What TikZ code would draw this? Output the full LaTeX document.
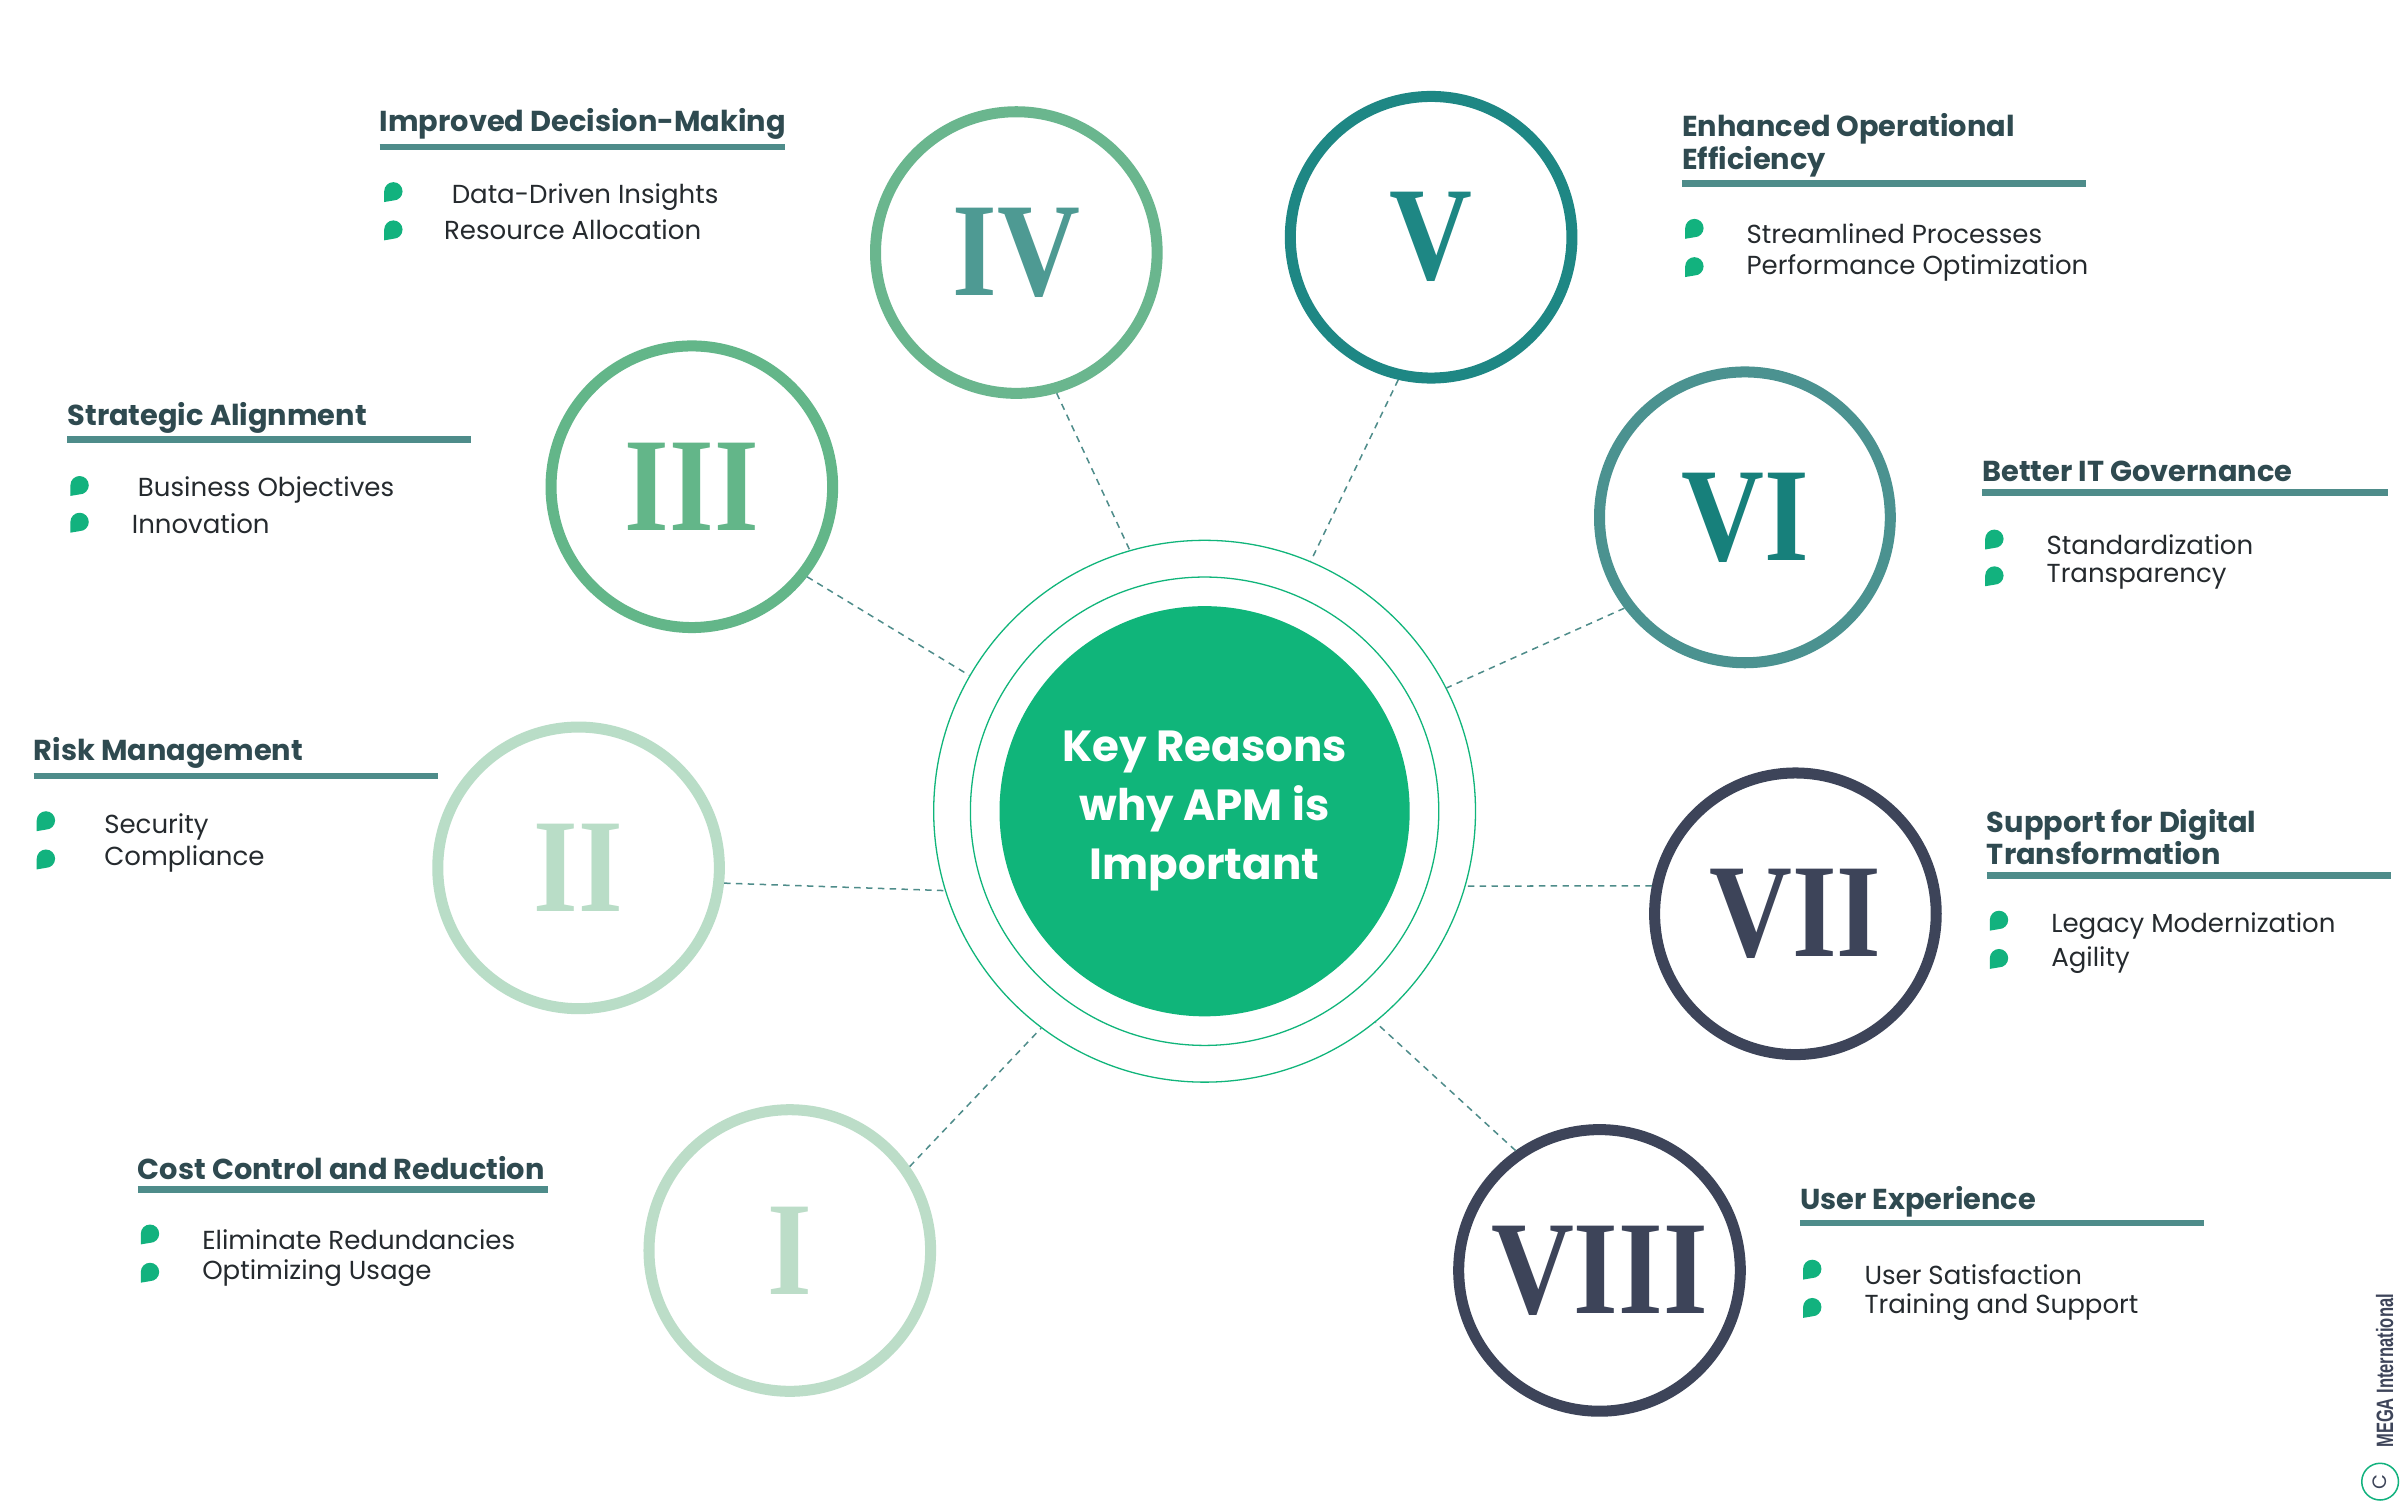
\documentclass[tikz,border=0pt]{standalone}
\usepackage{fontspec}
\setmainfont{Poppins}
\newfontfamily\numfont{Liberation Serif}[FakeStretch=0.86]
\newfontfamily\capfont{Liberation Sans}[FakeStretch=0.7]
\definecolor{bgreen}{HTML}{12B27E}
\definecolor{ctrg}{HTML}{10B57A}
\definecolor{ttl}{HTML}{2F4A50}
\definecolor{uline}{HTML}{4E8C8A}
\definecolor{cIV}{HTML}{6AB68E}
\definecolor{nIV}{HTML}{4E9A93}
\definecolor{cV}{HTML}{1E8784}
\definecolor{cIII}{HTML}{63B689}
\definecolor{cVI}{HTML}{4B9290}
\definecolor{nVI}{HTML}{17807B}
\definecolor{cII}{HTML}{B9DDC7}
\definecolor{cI}{HTML}{BCDDC8}
\definecolor{navy}{HTML}{3D4459}
\definecolor{txt}{HTML}{252A2E}
\begin{document}
\begin{tikzpicture}[x=0.05cm,y=-0.05cm,
  ring/.style={circle,draw,line width=0.36cm,minimum size=9.2cm,inner sep=0,outer sep=0.18cm,font=\numfont\bfseries\fontsize{124}{124}\selectfont},
  conn/.style={draw=uline,dashed,line width=1.4pt,dash pattern=on 6pt off 5pt},
  ttlf/.style={anchor=west,inner sep=0,text=ttl,font=\fontsize{26.8}{30}\selectfont\bfseries,align=left},
  body/.style={anchor=west,inner sep=0,text=txt,font=\fontsize{24.2}{28}\selectfont},
  ul/.style={draw=uline,line width=0.22cm},
  bul/.pic={\fill[bgreen] (-6,7) -- (-6,0) arc(180:450:6) -- cycle;}]
\useasboundingbox (0,0) rectangle (1568,987);
\fill[white] (0,0) rectangle (1568,987);
\node[circle,draw=ctrg,line width=1.2pt,minimum size=17.7cm,inner sep=0] (ctr) at (787,530) {};
\draw[ctrg,line width=1.2pt] (ctr.center) circle (153);
\fill[ctrg] (ctr.center) circle (134);
\node[text=white,align=center,font=\fontsize{40.5}{55}\selectfont\bfseries] (ctrt) at (787,530) {Key Reasons\\why APM is\\Important};
\node[ring,draw=cIV,text=nIV] (c4) at (664,165) {IV};
\node[ring,draw=cV,text=cV] (c5) at (935,155) {V};
\node[ring,draw=cIII,text=cIII] (c3) at (452,318) {III};
\node[ring,draw=cVI,text=nVI,minimum size=9.5cm] (c6) at (1140,338) {VI};
\node[ring,draw=cII,text=cII] (c2) at (378,567) {II};
\node[ring,draw=navy,text=navy] (c7) at (1173,597) {VII};
\node[ring,draw=cI,text=cI] (c1) at (516,817) {I};
\node[ring,draw=navy,text=navy] (c8) at (1045,830) {VIII};
\draw[conn] (c4.-74) -- (ctr.106);
\draw[conn] (c5.-103) -- (ctr.67);
\draw[conn] (c3.-38) -- (ctr.150);
\draw[conn] (c6.-143) -- (ctr.27);
\draw[conn] (c2.-6) -- (ctr.197);
\draw[conn] (c7.169) -- (ctr.-16);
\draw[conn] (c1.35) -- (ctr.233);
\draw[conn] (c8.125) -- (ctr.-51);
\node[ttlf] (t4) at (248,81) {Improved Decision-Making};
\draw[ul] (248,96) -- (513,96);
\pic at (257,125) {bul}; \pic at (257,150) {bul};
\node[body] at (295,129) {Data-Driven Insights};
\node[body] at (290,150) {Resource Allocation};
\node[ttlf] (t5) at (1099,95) {Enhanced Operational\\Efficiency};
\draw[ul] (1099,120) -- (1363,120);
\pic at (1107,149) {bul}; \pic at (1107,174) {bul};
\node[body] at (1141,153) {Streamlined Processes};
\node[body] at (1141,175) {Performance Optimization};
\node[ttlf] (t3) at (44,273) {Strategic Alignment};
\draw[ul] (44,287) -- (308,287);
\pic at (52,317) {bul}; \pic at (52,341) {bul};
\node[body] at (90,320) {Business Objectives};
\node[body] at (86,342) {Innovation};
\node[ttlf] (t6) at (1295,308) {Better IT Governance};
\draw[ul] (1295,322) -- (1560,322);
\pic at (1303,352) {bul}; \pic at (1303,376) {bul};
\node[body] at (1337,356) {Standardization};
\node[body] at (1337,377) {Transparency};
\node[ttlf] (t2) at (22,492) {Risk Management};
\draw[ul] (22,507) -- (286,507);
\pic at (30,536) {bul}; \pic at (30,561) {bul};
\node[body] at (68,540) {Security};
\node[body] at (68,561) {Compliance};
\node[ttlf] (t7) at (1298,547) {Support for Digital\\Transformation};
\draw[ul] (1298,572) -- (1562,572);
\pic at (1306,601) {bul}; \pic at (1306,626) {bul};
\node[body] at (1340,605) {Legacy Modernization};
\node[body] at (1340,627) {Agility};
\node[ttlf] (t1) at (90,763) {Cost Control and Reduction};
\draw[ul] (90,777) -- (358,777);
\pic at (98,806) {bul}; \pic at (98,831) {bul};
\node[body] at (132,810) {Eliminate Redundancies};
\node[body] at (132,832) {Optimizing Usage};
\node[ttlf] (t8) at (1176,785) {User Experience};
\draw[ul] (1176,799) -- (1440,799);
\pic at (1184,829) {bul}; \pic at (1184,854) {bul};
\node[body] at (1218,833) {User Satisfaction};
\node[body] at (1218,854) {Training and Support};
\node[rotate=90,anchor=west,inner sep=0,text=navy,font=\capfont\bfseries\fontsize{22}{22}\selectfont] (cp) at (1558,946) {MEGA International};
\node[circle,draw=bgreen,line width=1.4pt,inner sep=0,minimum size=1.2cm,text=navy,font=\fontsize{18}{18}\selectfont,rotate=90] (cc) at (1555,968) {C};
\end{tikzpicture}
\end{document}
